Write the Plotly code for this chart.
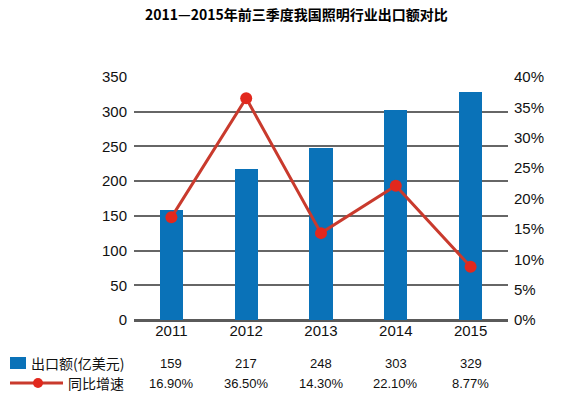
import plotly.graph_objects as go

years = ["2011", "2012", "2013", "2014", "2015"]
export_values = [159, 217, 248, 303, 329]
growth_rates = [0.169, 0.365, 0.143, 0.221, 0.0877]
growth_labels = ["16.90%", "36.50%", "14.30%", "22.10%", "8.77%"]
left_ticks = [0, 50, 100, 150, 200, 250, 300, 350]
right_ticks = [0, 0.05, 0.10, 0.15, 0.20, 0.25, 0.30, 0.35, 0.40]

title_text = "2011—2015年前三季度我国照明行业出口额对比"
bar_name = "出口额(亿美元)"
line_name = "同比增速"

BLUE = "#0a72b8"
LINE_RED = "#c93a2d"
DOT_RED = "#e2281d"
GRID = "#666666"
NUM_FONT = "Liberation Sans, Arial, sans-serif"
CJK_FONT = "Noto Sans CJK SC, sans-serif"

W, H = 574, 397
L, R, T, B = 134, 508, 77, 320
pw, ph = R - L, B - T

def px(x):
    return (x - L) / pw

def py(y):
    return (B - y) / ph

fig = go.Figure()
fig.add_trace(go.Bar(x=years, y=export_values, marker=dict(color=BLUE, line=dict(width=0)),
                     width=0.31, name=bar_name, yaxis="y", showlegend=False))
fig.add_trace(go.Scatter(x=years, y=growth_rates, mode="lines+markers", yaxis="y2",
                         line=dict(color=LINE_RED, width=3),
                         marker=dict(color=DOT_RED, size=12),
                         name=line_name, showlegend=False))

annotations = []
annotations.append(dict(text=f"<b>{title_text}</b>", xref="paper", yref="paper",
                        x=px(296), y=py(14), xanchor="center", yanchor="middle",
                        showarrow=False, font=dict(family=CJK_FONT, size=14, color="#000")))
# table rows
for i, yr in enumerate(years):
    annotations.append(dict(text=str(export_values[i]), xref="x", yref="paper", x=i, y=py(363),
                            xanchor="center", yanchor="middle", showarrow=False,
                            font=dict(family=NUM_FONT, size=13, color="#111")))
    annotations.append(dict(text=growth_labels[i], xref="x", yref="paper", x=i, y=py(383),
                            xanchor="center", yanchor="middle", showarrow=False,
                            font=dict(family=NUM_FONT, size=13, color="#111")))
annotations.append(dict(text=bar_name, xref="paper", yref="paper", x=px(126), y=py(363),
                        xanchor="right", yanchor="middle", showarrow=False,
                        font=dict(family=CJK_FONT, size=14, color="#111")))
annotations.append(dict(text=line_name, xref="paper", yref="paper", x=px(126), y=py(383),
                        xanchor="right", yanchor="middle", showarrow=False,
                        font=dict(family=CJK_FONT, size=14, color="#111")))

shapes = [
    dict(type="rect", xref="paper", yref="paper", x0=px(10), x1=px(26), y0=py(369), y1=py(357),
         fillcolor=BLUE, line=dict(width=0)),
    dict(type="line", xref="paper", yref="paper", x0=px(10), x1=px(63), y0=py(383), y1=py(383),
         line=dict(color=LINE_RED, width=3)),
    dict(type="circle", xref="paper", yref="paper", x0=px(33), x1=px(43), y0=py(388), y1=py(378),
         fillcolor=DOT_RED, line=dict(width=0)),
]

fig.update_layout(
    width=W, height=H,
    margin=dict(l=L, r=W - R, t=T, b=H - B, pad=0),
    paper_bgcolor="white", plot_bgcolor="white",
    annotations=annotations, shapes=shapes,
    bargap=0,
    xaxis=dict(type="category", range=[-0.5, 4.5], showgrid=False, ticks="",
               tickfont=dict(family=NUM_FONT, size=15, color="#111"), showline=False),
    yaxis=dict(range=[0, 350], tickvals=left_ticks, showgrid=True, gridcolor=GRID, gridwidth=1.5,
               zeroline=True, zerolinecolor="#5a5a5a", zerolinewidth=3, ticks="",
               tickfont=dict(family=NUM_FONT, size=15, color="#111"), ticklabelstandoff=6),
    yaxis2=dict(range=[0, 0.40], tickvals=right_ticks, tickformat=".0%", overlaying="y", side="right",
                showgrid=False, zeroline=False, ticks="",
                tickfont=dict(family=NUM_FONT, size=15, color="#111"), ticklabelstandoff=5),
)

fig.write_html("out.html", config={"displayModeBar": False},
               post_script="document.body.style.margin='0px';document.body.style.overflow='hidden';")
